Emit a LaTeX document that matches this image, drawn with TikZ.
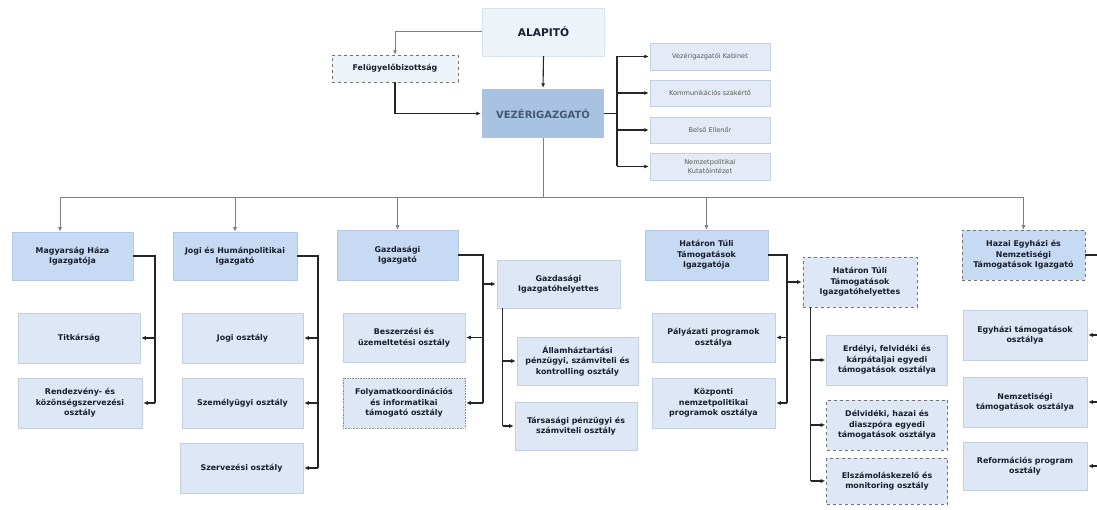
\documentclass[tikz,border=0pt]{standalone}
\usepackage{fontspec}
\setmainfont{DejaVu Sans}
\usetikzlibrary{arrows.meta}
\definecolor{lvltwo}{RGB}{199,218,243}
\definecolor{lvltwoline}{RGB}{180,200,228}
\definecolor{childfill}{RGB}{221,231,245}
\definecolor{childline}{RGB}{196,207,224}
\definecolor{vezfill}{RGB}{168,194,226}
\definecolor{topfill}{RGB}{238,243,250}
\definecolor{rightfill}{RGB}{228,235,246}
\definecolor{veztext}{RGB}{70,88,118}
\definecolor{txt}{RGB}{25,30,45}
\begin{document}
\begin{tikzpicture}[x=1pt,y=-1pt,
  base/.style={align=center,inner sep=2pt,text=txt,font=\fontsize{7.9}{10.6}\selectfont\bfseries},
  lvl/.style={base,fill=lvltwo,draw=lvltwoline,line width=0.5pt},
  child/.style={base,fill=childfill,draw=childline,line width=0.6pt},
  rbox/.style={align=center,inner sep=2pt,fill=rightfill,draw=childline,line width=0.5pt,text=black!65,font=\fontsize{6.6}{8.6}\selectfont},
  dbox/.style={dashed,draw=black!55},
  conn/.style={line width=1.1pt,black!85},
  arr/.style={conn,-{Latex[length=4.5pt,width=4.2pt]},shorten >=1pt},
  gline/.style={line width=1pt,black!50},
  garr/.style={gline,-{Latex[length=4.5pt,width=4.2pt]}}
]
\useasboundingbox (0,0) rectangle (1097,510);

% top
\node[base,fill=topfill,draw=childline!60,minimum width=122pt,minimum height=48pt,font=\fontsize{10.6}{12}\selectfont\bfseries] (alap) at (543.5,32) {ALAPITÓ};
\node[base,fill=topfill,dbox,minimum width=126pt,minimum height=27pt] (felu) at (395,68.5) {Felügyelőbizottság};
\node[base,fill=vezfill,minimum width=122pt,minimum height=49pt,text=veztext,font=\fontsize{10}{12}\selectfont\bfseries] (vez) at (543,113.5) {VEZÉRIGAZGATÓ};

\node[rbox,minimum width=120pt,minimum height=27pt] (r1) at (710,56.5) {Vezérigazgatói Kabinet};
\node[rbox,minimum width=120pt,minimum height=26pt] (r2) at (710,93) {Kommunikációs szakértő};
\node[rbox,minimum width=120pt,minimum height=26pt] (r3) at (710,130) {Belső Ellenőr};
\node[rbox,minimum width=120pt,minimum height=27pt] (r4) at (710,166.5) {Nemzetpolitikai\\Kutatóintézet};

% level 2
\node[lvl,minimum width=121pt,minimum height=48pt] (mh) at (72.5,256) {Magyarság Háza\\Igazgatója};
\node[lvl,minimum width=124pt,minimum height=48pt] (jg) at (235,256) {Jogi és Humánpolitikai\\Igazgató};
\node[lvl,minimum width=121pt,minimum height=50pt] (gz) at (397.5,255) {Gazdasági\\Igazgató};
\node[lvl,minimum width=123pt,minimum height=50pt] (ht) at (706.5,255) {Határon Túli\\Támogatások\\Igazgatója};
\node[lvl,dbox,minimum width=123pt,minimum height=50pt] (hz) at (1023.5,255) {Hazai Egyházi és\\Nemzetiségi\\Támogatások Igazgató};

% children
\node[child,minimum width=122pt,minimum height=50pt] (tit) at (79,338) {Titkárság};
\node[child,minimum width=124pt,minimum height=50pt] (ren) at (80,403) {Rendezvény- és\\közönségszervezési\\osztály};
\node[child,minimum width=121pt,minimum height=50pt] (jo) at (242.5,338) {Jogi osztály};
\node[child,minimum width=121pt,minimum height=50pt] (sz) at (242.5,403) {Személyügyi osztály};
\node[child,minimum width=123pt,minimum height=50pt] (szv) at (241.5,468) {Szervezési osztály};
\node[child,minimum width=122pt,minimum height=49pt] (besz) at (404,337.5) {Beszerzési és\\üzemeltetési osztály};
\node[child,densely dotted,draw=black!45,minimum width=122pt,minimum height=50pt] (foly) at (404,403) {Folyamatkoordinációs\\és informatikai\\támogató osztály};
\node[child,minimum width=123pt,minimum height=48pt] (gh) at (558.5,284) {Gazdasági\\Igazgatóhelyettes};
\node[child,minimum width=121pt,minimum height=48pt] (all) at (577.5,361) {Államháztartási\\pénzügyi, számviteli és\\kontrolling osztály};
\node[child,minimum width=122pt,minimum height=48pt] (tar) at (576,426) {Társasági pénzügyi és\\számviteli osztály};
\node[child,minimum width=123pt,minimum height=49pt] (pal) at (713.5,337.5) {Pályázati programok\\osztálya};
\node[child,minimum width=123pt,minimum height=50pt] (koz) at (713.5,403) {Központi\\nemzetpolitikai\\programok osztálya};
\node[child,dbox,minimum width=114pt,minimum height=50pt] (hh) at (860,282) {Határon Túli\\Támogatások\\Igazgatóhelyettes};
\node[child,minimum width=121pt,minimum height=50pt] (erd) at (887,360) {Erdélyi, felvidéki és\\kárpátaljai egyedi\\támogatások osztálya};
\node[child,dbox,minimum width=121pt,minimum height=50pt] (del) at (887,425) {Délvidéki, hazai és\\diaszpóra egyedi\\támogatások osztálya};
\node[child,dbox,minimum width=121pt,minimum height=46pt] (elsz) at (887,481) {Elszámoláskezelő és\\monitoring osztály};
\node[child,minimum width=124pt,minimum height=50pt] (egy) at (1025,335) {Egyházi támogatások\\osztálya};
\node[child,minimum width=124pt,minimum height=50pt] (nem) at (1025,402) {Nemzetiségi\\támogatások osztálya};
\node[child,minimum width=124pt,minimum height=48pt] (ref) at (1025,466) {Reformációs program\\osztály};

% top connectors
\draw[garr] (alap.west) -| (felu.north);
\draw[arr] (felu.south) |- (vez.west);
\draw[arr] (alap.south) -- (vez.north);
\coordinate (rb) at (617,0);
\draw[conn] (vez.east) -- (rb |- vez.east);
\draw[conn] (rb |- r1.west) -- (rb |- r4.west);
\foreach \r in {r1,r2,r3,r4} \draw[arr] (rb |- \r.west) -- (\r.west);

% bus
\coordinate (bus) at (0,198);
\coordinate (mhin) at ([xshift=-12.5pt]mh.north);
\draw[gline] (vez.south) -- (vez.south |- bus);
\draw[gline] (mhin |- bus) -- (hz.north |- bus);
\draw[garr] (mhin |- bus) -- (mhin);
\foreach \b in {jg,gz,ht,hz} \draw[garr] (\b.north |- bus) -- (\b.north);

% Magyarság Háza
\coordinate (mx) at (155,0);
\draw[conn] (mh.east) -| (mx |- ren.east);
\foreach \c in {tit,ren} \draw[arr] (mx |- \c.east) -- (\c.east);
% Jogi
\coordinate (jx) at (318,0);
\draw[conn] (jg.east) -| (jx |- szv.east);
\foreach \c in {jo,sz,szv} \draw[arr] (jx |- \c.east) -- (\c.east);
% Gazdasági
\coordinate (gx) at (483,0);
\draw[conn] (gz.east) -| (gx |- foly.east);
\draw[arr] (gx |- gh.west) -- (gh.west);
\foreach \c in {besz,foly} \draw[arr] (gx |- \c.east) -- (\c.east);
\coordinate (ghx) at ([xshift=6pt]gh.south west);
\draw[conn] (ghx) -- (ghx |- tar.west);
\foreach \c in {all,tar} \draw[arr] (ghx |- \c.west) -- (\c.west);
% Határon Túli
\coordinate (hx) at (787,0);
\draw[conn] (ht.east) -| (hx |- koz.east);
\draw[arr] (hx |- hh.west) -- (hh.west);
\foreach \c in {pal,koz} \draw[arr] (hx |- \c.east) -- (\c.east);
\coordinate (hhx) at ([xshift=8pt]hh.south west);
\draw[conn] (hhx) -- (hhx |- elsz.west);
\foreach \c in {erd,del,elsz} \draw[arr] (hhx |- \c.west) -- (\c.west);
% Hazai
\coordinate (zx) at (1101,0);
\draw[conn] (hz.east) -| (zx |- ref.east);
\foreach \c in {egy,nem,ref} \draw[arr] (zx |- \c.east) -- (\c.east);
\end{tikzpicture}
\end{document}
